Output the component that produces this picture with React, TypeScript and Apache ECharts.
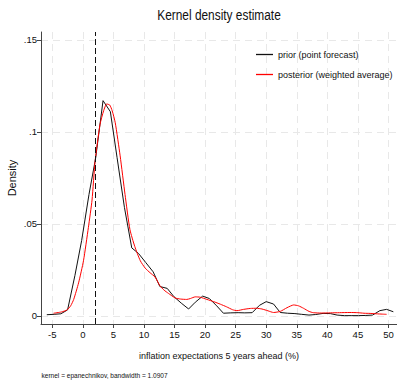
import React, { useEffect, useRef } from "react";
import * as echarts from "echarts";

const titleText = "Kernel density estimate";
const xAxisTitle = "inflation expectations 5 years ahead (%)";
const yAxisTitle = "Density";
const noteText = "kernel = epanechnikov, bandwidth = 1.0907";
const priorName = "prior (point forecast)";
const posteriorName = "posterior (weighted average)";

const xTicks = [-5, 0, 5, 10, 15, 20, 25, 30, 35, 40, 45, 50];
const yTicks = [0, 0.05, 0.1, 0.15];
const yTickLabels = ["0", ".05", ".1", ".15"];
const targetLine = 2;

const priorX = [-5.9, -4.7, -3.6, -2.5, -1.3, -0.2, 1.0, 2.1, 3.3, 4.5, 5.6, 6.8, 8.0, 9.1, 10.3, 11.5, 12.6, 13.8, 14.9, 16.1, 17.3, 18.4, 19.6, 20.7, 21.9, 23.0, 24.2, 25.4, 26.5, 27.7, 28.9, 30.0, 31.2, 32.3, 33.5, 34.7, 35.8, 37.0, 38.1, 39.3, 40.5, 41.6, 42.8, 43.9, 45.1, 46.3, 47.4, 48.6, 49.7, 50.8];
const priorY = [0.0007, 0.0009, 0.0012, 0.0033, 0.022, 0.041, 0.066, 0.086, 0.117, 0.111, 0.086, 0.059, 0.037, 0.034, 0.029, 0.024, 0.016, 0.015, 0.0105, 0.007, 0.0038, 0.0075, 0.0108, 0.0095, 0.0055, 0.0015, 0.0017, 0.0018, 0.0017, 0.0018, 0.0058, 0.0078, 0.0065, 0.0019, 0.0015, 0.0013, 0.0009, 0.0005, 0.0008, 0.0014, 0.0013, 0.0005, 0.0002, 0.0002, 0.0002, 0.0003, 0.0005, 0.0029, 0.0036, 0.0023];

const postX = [-4.8, -3.5, -2.6, -2.0, -1.5, -0.7, 0.1, 0.9, 1.5, 2.0, 2.8, 3.4, 3.9, 4.4, 4.8, 5.3, 6.1, 6.9, 7.7, 8.5, 9.4, 10.2, 11.0, 11.8, 12.6, 13.3, 14.0, 15.1, 16.0, 17.0, 17.6, 18.4, 19.2, 20.3, 21.4, 22.5, 23.5, 24.5, 25.2, 26.3, 27.4, 28.4, 29.3, 30.3, 31.2, 32.3, 33.4, 34.5, 35.3, 36.1, 37.0, 37.7, 39.0, 40.5, 42.0, 43.7, 45.0, 46.0, 47.0, 48.5, 49.7];
const postY = [0.0015, 0.0022, 0.0033, 0.0055, 0.009, 0.018, 0.03, 0.048, 0.063, 0.084, 0.104, 0.1115, 0.1152, 0.1146, 0.1115, 0.105, 0.087, 0.066, 0.047, 0.0377, 0.03, 0.026, 0.0235, 0.0212, 0.0165, 0.014, 0.0123, 0.0098, 0.0092, 0.009, 0.0095, 0.0104, 0.0102, 0.009, 0.0078, 0.0064, 0.005, 0.0034, 0.0029, 0.0036, 0.0041, 0.0042, 0.0038, 0.0028, 0.0019, 0.0025, 0.0045, 0.006, 0.0055, 0.0042, 0.0025, 0.0018, 0.0016, 0.0017, 0.0018, 0.0019, 0.0018, 0.0015, 0.0014, 0.0011, 0.0009];

const SANS = "'Liberation Sans', Arial, sans-serif";

export default function App() {
  const ref = useRef<HTMLDivElement>(null);
  useEffect(() => {
    if (!ref.current) return;
    const chart = echarts.init(ref.current, null, { renderer: "svg" });
    const gridLine = { show: true, lineStyle: { color: "#e8e8e8", type: [7, 5], width: 1 } };
    chart.setOption({
      animation: false,
      backgroundColor: "#ffffff",
      legend: {
        orient: "vertical",
        left: 251,
        top: 45,
        icon: "rect",
        itemWidth: 17,
        itemHeight: 1.3,
        itemGap: 11,
        textStyle: { fontFamily: SANS, fontSize: 9, color: "#111" },
        data: [
          { name: priorName, itemStyle: { color: "#111" } },
          { name: posteriorName, itemStyle: { color: "#ff0000" } },
        ],
      },
      graphic: [
        {
          type: "text",
          x: 219,
          y: 8,
          scaleX: 0.82,
          style: {
            text: titleText,
            textAlign: "center",
            textVerticalAlign: "top",
            fontFamily: SANS,
            fontSize: 14.5,
            fill: "#111",
          },
        },
        {
          type: "text",
          x: 41.5,
          y: 371,
          scaleX: 0.82,
          style: { text: noteText, fontFamily: SANS, fontSize: 8, fill: "#111" },
        },
      ],
      grid: { left: 41, right: 0, top: 32, bottom: 58, containLabel: false, outerBoundsMode: "none" },
      xAxis: {
        type: "value",
        min: -6.85,
        max: 51.4,
        name: xAxisTitle,
        nameLocation: "middle",
        nameGap: 27,
        nameTextStyle: { fontFamily: SANS, fontSize: 9, color: "#111" },
        axisLine: { show: true, onZero: false, lineStyle: { color: "#444", width: 1 } },
        axisTick: { show: true, length: 4, customValues: xTicks, lineStyle: { color: "#444" } },
        axisLabel: { customValues: xTicks, margin: 5, fontFamily: SANS, fontSize: 9.5, color: "#111" },
        splitLine: gridLine,
      },
      yAxis: {
        type: "value",
        min: -0.00435,
        max: 0.1543,
        name: yAxisTitle,
        nameLocation: "middle",
        nameGap: 24,
        nameMoveOverlap: false,
        nameTextStyle: { fontFamily: SANS, fontSize: 11, color: "#111" },
        axisLine: { show: true, onZero: false, lineStyle: { color: "#444", width: 1 } },
        axisTick: { show: true, length: 4, customValues: yTicks, lineStyle: { color: "#444" } },
        axisLabel: {
          customValues: yTicks,
          margin: 4,
          fontFamily: SANS,
          fontSize: 9.5,
          color: "#111",
          formatter: (v: number) => {
            const i = yTicks.findIndex((t) => Math.abs(t - v) < 1e-9);
            return i >= 0 ? yTickLabels[i] : "";
          },
        },
        splitLine: gridLine,
      },
      series: [
        {
          name: priorName,
          type: "line",
          data: priorX.map((x, i) => [x, priorY[i]]),
          symbol: "none",
          lineStyle: { color: "#111", width: 1 },
          itemStyle: { color: "#111" },
          markLine: {
            silent: true,
            symbol: "none",
            label: { show: false },
            lineStyle: { color: "#111", type: [6, 3], width: 1 },
            data: [{ xAxis: targetLine }],
          },
        },
        {
          name: posteriorName,
          type: "line",
          data: postX.map((x, i) => [x, postY[i]]),
          symbol: "none",
          smooth: 0.2,
          lineStyle: { color: "#ff0000", width: 1 },
          itemStyle: { color: "#ff0000" },
        },
      ],
    });
    return () => chart.dispose();
  }, []);
  return <div ref={ref} style={{ width: 397, height: 382, position: "absolute", left: 0, top: 0 }} />;
}
